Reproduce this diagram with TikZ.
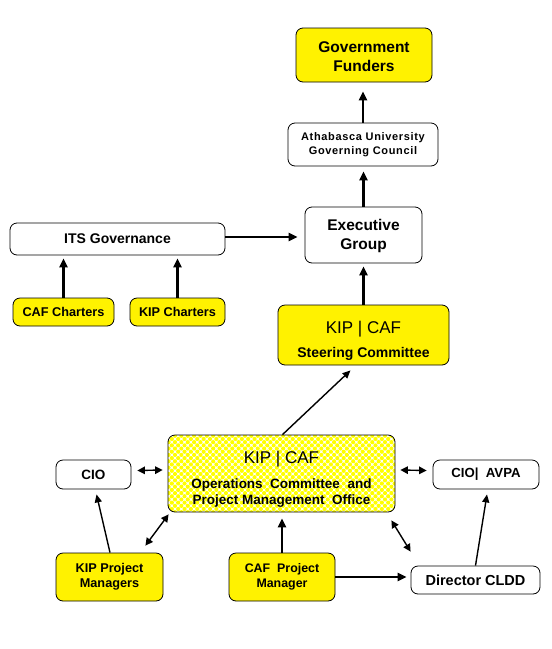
\documentclass[tikz,border=0pt]{standalone}
\usepackage{fontspec}
\setmainfont{Liberation Sans}
\usetikzlibrary{arrows.meta,positioning,patterns.meta}
\begin{document}
\begin{tikzpicture}[x=1pt,y=-1pt,
  box/.style={draw=black, line width=0.8pt, rounded corners=7pt, align=center, inner sep=2pt},
  yellowbox/.style={box, fill=yellow},
  whitebox/.style={box, fill=white},
  dotbox/.style={box, preaction={fill=white}, pattern={Dots[radius=2.1pt,distance=4.5pt,angle=45]}, pattern color=yellow},
  bigarrow/.style={line width=2.2pt, -{Triangle[length=9pt,width=8pt]}},
  thinarrow/.style={line width=1.4pt, -{Triangle[length=8pt,width=7pt]}},
  bothways/.style={line width=1.4pt, {Triangle[length=7.5pt,width=7.5pt]}-{Triangle[length=7.5pt,width=7.5pt]}}
]
    \newcommand{\headTxt}{{\fontsize{17}{20}\selectfont\mdseries\rule{0pt}{24pt}KIP | CAF}}
  \useasboundingbox (0,0) rectangle (552,649);

  % top of the chain
  \node[yellowbox, minimum width=136pt, minimum height=54pt, font=\bfseries\fontsize{15.5}{19}\selectfont] (funders) at (364,55) {\strut Government\\Funders};
  \node[whitebox, minimum width=150pt, minimum height=43pt, font=\bfseries\fontsize{11}{14}\selectfont\addfontfeature{LetterSpace=6}] (council) at (363,144.5)
    {Athabasca University\\Governing Council};
  \node[whitebox, minimum width=117pt, minimum height=56pt, font=\bfseries\fontsize{15.5}{19}\selectfont] (exec) at (363.5,235) {\strut Executive\\Group};
  \node[yellowbox, minimum width=171pt, minimum height=60pt, font=\bfseries\fontsize{14}{16}\selectfont] (steering) at (363.5,335)
    {\headTxt\\[8pt]Steering Committee};

  % its side
  \node[whitebox, minimum width=215pt, minimum height=32pt, font=\bfseries\fontsize{14}{16}\selectfont] (its) at (117.5,239) {ITS Governance};
  \node[yellowbox, minimum width=101pt, minimum height=28pt, font=\bfseries\fontsize{12.7}{15}\selectfont] (cafcharters) at (63.5,312) {CAF Charters};
  \node[yellowbox, minimum width=95pt, minimum height=28pt, font=\bfseries\fontsize{12.7}{15}\selectfont] (kipcharters) at (177.5,312) {KIP Charters};

  % operations level
  \node[dotbox, minimum width=227pt, minimum height=77pt, font=\bfseries\fontsize{13.5}{16.5}\selectfont] (ops) at (281.5,473.5)
    {\headTxt\\[8pt]Operations \ Committee \ and\\Project Management \ Office};
  \node[whitebox, minimum width=75pt, minimum height=29pt, font=\bfseries\fontsize{13.5}{16}\selectfont] (cio) at (93.5,474.5) {CIO};
  \node[whitebox, minimum width=106pt, minimum height=29pt, font=\bfseries\fontsize{13.2}{16}\selectfont] (avpa) at (486,474.5) {CIO| \ AVPA};
  \node[yellowbox, minimum width=107pt, minimum height=48pt, font=\bfseries\fontsize{12.7}{15}\selectfont] (kippm) at (109.5,577) {KIP Project\\Managers};
  \node[yellowbox, minimum width=106pt, minimum height=48pt, font=\bfseries\fontsize{12.4}{15}\selectfont] (cafpm) at (282,577) {CAF \ Project\\Manager};
  \node[whitebox, minimum width=129pt, minimum height=28pt, font=\bfseries\fontsize{14.5}{17}\selectfont] (cldd) at (475.5,580) {Director CLDD};

  % arrows
  \draw[bigarrow, shorten >=9pt] (council.north) -- (council.north |- funders.south);
  \draw[bigarrow, shorten >=5pt] (exec.north) -- (exec.north |- council.south);
  \draw[bigarrow, shorten >=3pt] (steering.north) -- (steering.north |- exec.south);
  \draw[bigarrow, shorten >=7pt] ([yshift=2pt]its.east) -- ([yshift=2pt]its.east -| exec.west);
  \draw[bigarrow, shorten >=3pt] (cafcharters.north) -- (cafcharters.north |- its.south);
  \draw[bigarrow, shorten >=3pt] (kipcharters.north) -- (kipcharters.north |- its.south);
  \draw[thinarrow] ([xshift=1pt]ops.north) -- ([xshift=-13pt,yshift=-5pt]steering.south);
  \draw[bothways] ([xshift=6pt,yshift=4pt]cio.east) -- ([xshift=-5pt,yshift=3.5pt]ops.west);
  \draw[bothways] ([xshift=5pt,yshift=3.5pt]ops.east) -- ([xshift=-6pt,yshift=4pt]avpa.west);
  \draw[thinarrow] ([xshift=0.5pt]kippm.north) -- ([xshift=3pt,yshift=-5pt]cio.south);
  \draw[bothways] ([xshift=-18pt,yshift=7pt]kippm.north east) -- ([xshift=1pt,yshift=-2pt]ops.south west);
  \draw[bigarrow, shorten >=6pt] (cafpm.north) -- (cafpm.north |- ops.south);
  \draw[bothways] ([xshift=-4pt,yshift=-8pt]ops.south east) -- ([yshift=14pt]cldd.north west);
  \draw[bigarrow, shorten >=4pt] (cafpm.east) -- (cafpm.east -| cldd.west);
  \draw[thinarrow] (cldd.north) -- ([xshift=1pt,yshift=-5pt]avpa.south);
\end{tikzpicture}
\end{document}
